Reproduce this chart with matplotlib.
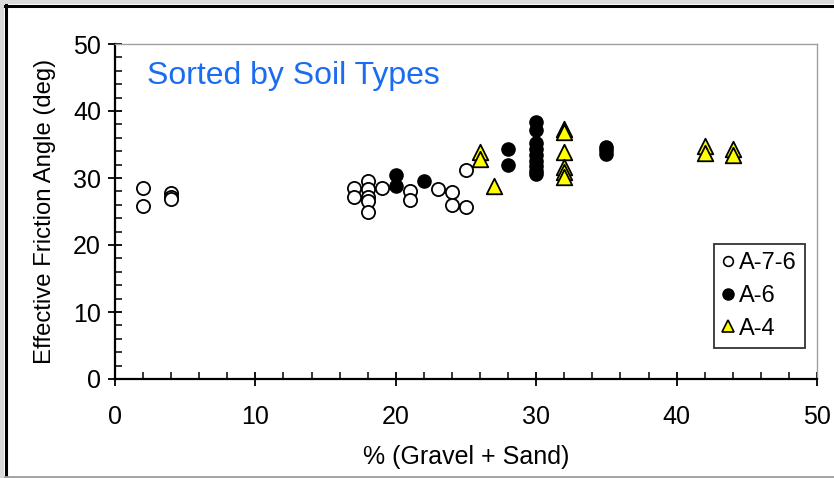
import matplotlib
matplotlib.use("Agg")
import matplotlib.pyplot as plt
from matplotlib.ticker import MultipleLocator
from matplotlib.lines import Line2D
from matplotlib.patches import Rectangle

plt.rcParams['font.family'] = ['Liberation Sans', 'DejaVu Sans']

# A-7-6 (open circles)
a76_x = [2, 2, 4, 4, 4, 17, 17, 18, 18, 18, 18, 18, 19, 21, 21, 23, 24, 24, 25, 25]
a76_y = [28.5, 25.8, 27.7, 27.2, 26.9, 28.5, 27.1, 29.5, 28.4, 27.2, 26.5, 24.9, 28.5,
         28.0, 26.7, 28.3, 27.9, 26.0, 25.7, 31.2]

# A-6 (filled circles)
a6_x = [20, 20, 22, 28, 28, 30, 30, 30, 30, 30, 30, 30, 30, 30, 35, 35, 35]
a6_y = [30.4, 28.8, 29.5, 34.3, 31.9, 38.3, 37.2, 35.2, 34.3, 33.5, 32.6, 31.8, 31.0,
        30.6, 34.7, 34.2, 33.6]

# A-4 (yellow triangles)
a4_x = [26, 26, 27, 32, 32, 32, 32, 32, 32, 42, 42, 44, 44]
a4_y = [33.9, 32.9, 28.8, 37.3, 36.8, 33.9, 31.7, 30.9, 30.2, 34.8, 33.7, 34.3, 33.5]

labels = ['A-7-6', 'A-6', 'A-4']

fig = plt.figure(figsize=(8.34, 4.78), dpi=100)
fig.patch.set_facecolor('white')

# outer frame
fig.patches.append(Rectangle((0, 0), 4/834, 1, transform=fig.transFigure,
                             facecolor='#d9d9d9', edgecolor='none', zorder=0))
fig.patches.append(Rectangle((0, 1 - 4/478), 1, 4/478, transform=fig.transFigure,
                             facecolor='#d9d9d9', edgecolor='none', zorder=0))
fig.add_artist(Line2D([5.5/834, 5.5/834], [0, 1 - 5/478], transform=fig.transFigure,
                      color='black', lw=2.2))
fig.add_artist(Line2D([5/834, 1], [1 - 5.5/478, 1 - 5.5/478], transform=fig.transFigure,
                      color='black', lw=2.2))
fig.add_artist(Line2D([5/834, 1], [1.5/478, 1.5/478], transform=fig.transFigure,
                      color='#a0a0a0', lw=2))

ax = fig.add_axes([115/834, 1 - 379/478, (817 - 115)/834, (379 - 44)/478])

ax.scatter(a76_x, a76_y, s=90, facecolors='white', edgecolors='black', linewidths=1.3,
           zorder=3, label=labels[0])
ax.scatter(a6_x, a6_y, s=90, facecolors='black', edgecolors='black', linewidths=1.0,
           zorder=3, label=labels[1])
ax.scatter(a4_x, a4_y, s=125, marker='^', facecolors='#ffff00', edgecolors='black',
           linewidths=1.3, zorder=3, label=labels[2])

ax.set_xlim(0, 50)
ax.set_ylim(0, 50)
ax.xaxis.set_major_locator(MultipleLocator(10))
ax.xaxis.set_minor_locator(MultipleLocator(2))
ax.yaxis.set_major_locator(MultipleLocator(10))
ax.yaxis.set_minor_locator(MultipleLocator(2))
ax.tick_params(which='major', direction='inout', length=10, width=1.3, labelsize=18,
               colors='black')
ax.tick_params(which='minor', direction='in', length=5, width=1.1)
ax.tick_params(axis='x', which='major', pad=14)
ax.tick_params(axis='y', which='major', pad=5)

for side in ['top', 'right']:
    ax.spines[side].set_color('#a0a0a0')
    ax.spines[side].set_linewidth(1.0)
for side in ['left', 'bottom']:
    ax.spines[side].set_color('black')
    ax.spines[side].set_linewidth(1.6)

ax.set_xlabel('% (Gravel + Sand)', fontsize=18, labelpad=11)
ax.set_ylabel('Effective Friction Angle (deg)', fontsize=17.2, labelpad=12)

ax.text(0.045, 0.905, 'Sorted by Soil Types', transform=ax.transAxes, fontsize=23,
        color='#1a6cf0', va='center', ha='left')

handles = [
    Line2D([], [], marker='o', ls='none', markerfacecolor='white', markeredgecolor='black',
           markersize=7, markeredgewidth=1.2),
    Line2D([], [], marker='o', ls='none', markerfacecolor='black', markeredgecolor='black',
           markersize=8),
    Line2D([], [], marker='^', ls='none', markerfacecolor='#ffff00', markeredgecolor='black',
           markersize=9, markeredgewidth=1.2),
]
leg = ax.legend(handles, labels, loc='lower right', bbox_to_anchor=(0.983, 0.0925),
                fontsize=17, frameon=True, fancybox=False, handlelength=0.5,
                handletextpad=0.2, borderpad=0.35, labelspacing=0.45, borderaxespad=0,
                handleheight=0.7)
leg.get_frame().set_edgecolor('black')
leg.get_frame().set_linewidth(1.3)

fig.savefig('out.png', dpi=100)
